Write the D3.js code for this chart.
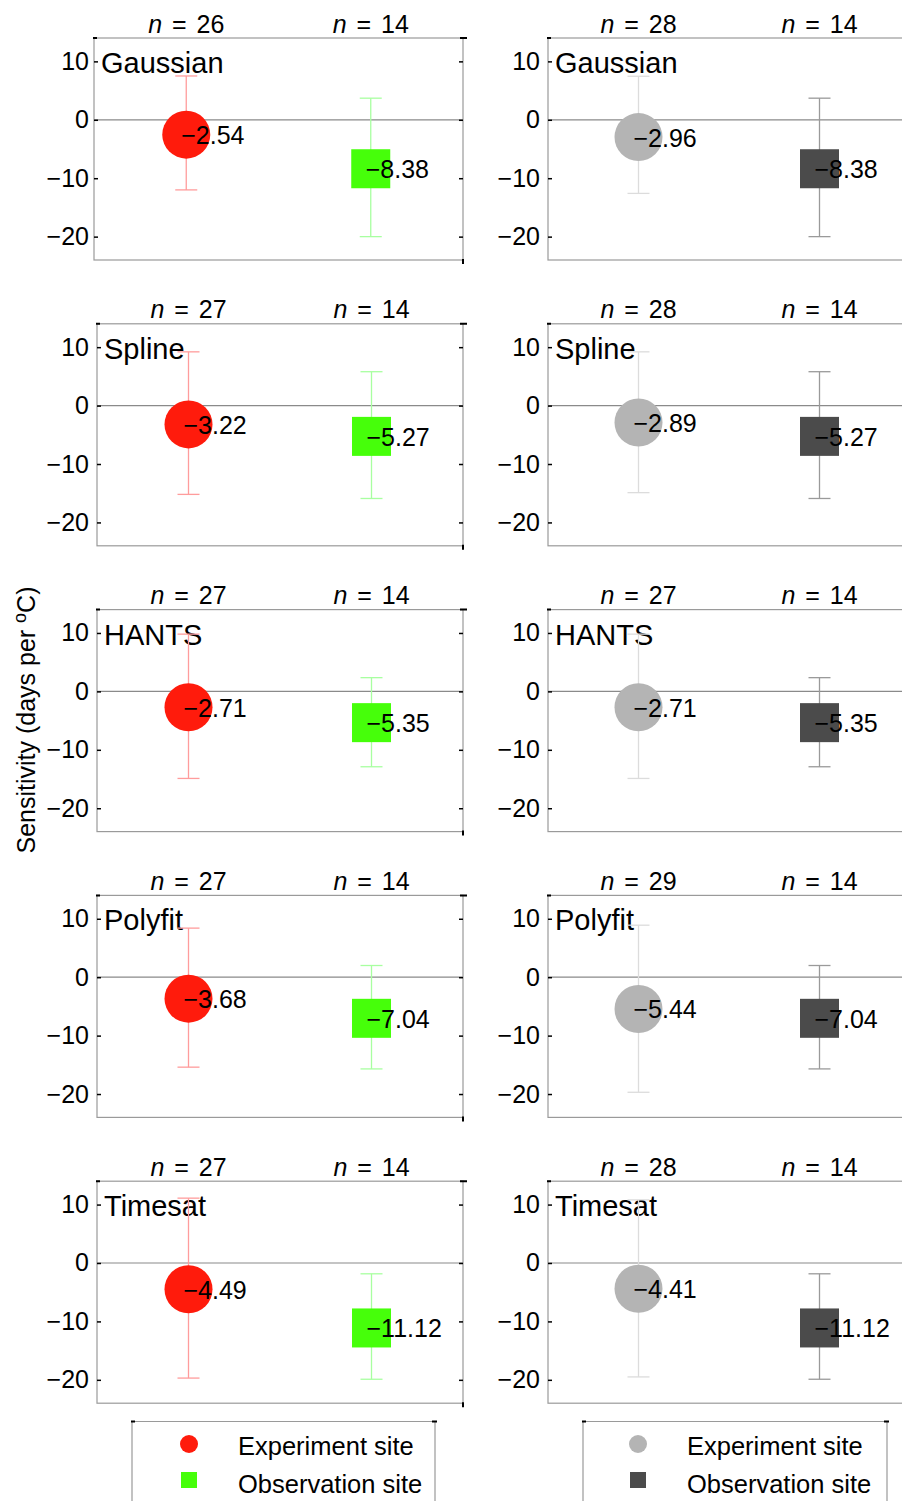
<!DOCTYPE html>
<html>
<head>
<meta charset="utf-8">
<script src="https://cdn.jsdelivr.net/npm/d3@7"></script>
<style>
  body { margin: 0; background: #fff; }
  svg { display: block; font-family: "Liberation Sans", Arial, sans-serif; }
</style>
</head>
<body>
<svg id="chart" width="902" height="1501"></svg>
<script>
// methods (rows) and the two sites (x categories)
const methods = ["Gaussian", "Spline", "HANTS", "Polyfit", "Timesat"];
const sites = ["Experiment site", "Observation site"];
const yTicks = [-20, -10, 0, 10];

// sample sizes
const nExpLeft = [26, 27, 27, 27, 27];
const nExpRight = [28, 28, 27, 29, 28];
const nObs = [14, 14, 14, 14, 14];

// experiment site, left column
const expMeanLeft = [-2.54, -3.22, -2.71, -3.68, -4.49];
const expHiLeft = [7.5, 9.2, 9.8, 8.4, 11.1];
const expLoLeft = [-12.0, -15.2, -14.9, -15.4, -19.7];

// experiment site, right column
const expMeanRight = [-2.96, -2.89, -2.71, -5.44, -4.41];
const expHiRight = [7.45, 9.2, 9.8, 8.9, 10.8];
const expLoRight = [-12.6, -14.9, -14.9, -19.7, -19.5];

// observation site (same in both columns)
const obsMean = [-8.38, -5.27, -5.35, -7.04, -11.12];
const obsHi = [3.7, 5.8, 2.35, 2.0, -1.85];
const obsLo = [-20.0, -15.9, -12.9, -15.7, -19.9];

const svg = d3.select("#chart");
const fmt = d => d3.format(".2f")(d);

// two colour schemes: coloured (left) and grey (right)
const columns = [
  { x0: 97, w: 366, labelEdge: 89, nExp: nExpLeft, mean: expMeanLeft, hi: expHiLeft, lo: expLoLeft,
    expFill: "#ff1b0c", obsFill: "#46ff0a", expBar: "#ff9c9c", obsBar: "#a8ffa0" },
  { x0: 548, w: 362, labelEdge: 540, nExp: nExpRight, mean: expMeanRight, hi: expHiRight, lo: expLoRight,
    expFill: "#b4b4b4", obsFill: "#4b4b4b", expBar: "#dcdcdc", obsBar: "#9a9a9a" }
];

const rowTop = i => 38 + i * 285.8;
const panelH = 222;

methods.forEach((m, i) => {
  columns.forEach((col, c) => {
    // first row, left column is a touch wider in the original
    const x0 = (i === 0 && c === 0) ? 94 : col.x0;
    const w = (i === 0 && c === 0) ? 369 : col.w;
    const top = rowTop(i);

    const x = d3.scaleBand().domain(sites).range([0, w]);
    const y = d3.scaleLinear().domain([-24, 14]).range([panelH, 0]);
    const cx = s => x(s) + x.bandwidth() / 2;

    const g = svg.append("g").attr("transform", `translate(${x0},${top})`);

    // frame
    g.append("rect").attr("width", w).attr("height", panelH)
      .attr("fill", "none").attr("stroke", "#9a9a9a").attr("stroke-width", 1.2);

    // zero line
    g.append("line").attr("x1", 0).attr("x2", w)
      .attr("y1", y(0)).attr("y2", y(0))
      .attr("stroke", "#8a8a8a").attr("stroke-width", 1.2);

    // left axis with inward ticks
    const ax = g.append("g").call(
      d3.axisLeft(y).tickValues(yTicks).tickSize(-4).tickPadding(x0 - col.labelEdge)
    );
    ax.select(".domain").remove();
    ax.selectAll(".tick line").attr("stroke", "#000").attr("stroke-width", 1.5);
    ax.selectAll(".tick text").attr("font-size", 25).attr("fill", "#000")
      .attr("font-family", "Liberation Sans, Arial, sans-serif");

    // right axis, ticks only
    const axr = g.append("g").attr("transform", `translate(${w},0)`).call(
      d3.axisRight(y).tickValues(yTicks).tickSize(-4).tickFormat("")
    );
    axr.select(".domain").remove();
    axr.selectAll(".tick line").attr("stroke", "#000").attr("stroke-width", 1.5);

    // corner marks
    g.append("path").attr("d", `M-1,0H3 M${w - 3},0H${w + 4} M${w},${panelH - 1}V${panelH + 4}`)
      .attr("stroke", "#000").attr("stroke-width", 2);

    // n labels
    const ns = [col.nExp[i], nObs[i]];
    sites.forEach((s, k) => {
      const t = g.append("text").attr("x", cx(s)).attr("y", -5.5)
        .attr("text-anchor", "middle").attr("font-size", 25).attr("fill", "#000")
        .attr("word-spacing", 3).attr("xml:space", "preserve");
      t.append("tspan").attr("font-style", "italic").text("n");
      t.append("tspan").text(" = " + ns[k]);
    });

    // method label
    g.append("text").attr("x", 7).attr("y", 35).attr("font-size", 29)
      .attr("fill", "#000").text(m);

    const rows = [
      { s: sites[0], mean: col.mean[i], hi: col.hi[i], lo: col.lo[i], fill: col.expFill, bar: col.expBar, shape: "circle" },
      { s: sites[1], mean: obsMean[i], hi: obsHi[i], lo: obsLo[i], fill: col.obsFill, bar: col.obsBar, shape: "square" }
    ];

    rows.forEach(d => {
      const px = cx(d.s);
      const bar = g.append("g").attr("stroke", d.bar).attr("stroke-width", 1.3);
      bar.append("line").attr("x1", px).attr("x2", px).attr("y1", y(d.hi)).attr("y2", y(d.lo));
      bar.append("line").attr("x1", px - 11).attr("x2", px + 11).attr("y1", y(d.hi)).attr("y2", y(d.hi));
      bar.append("line").attr("x1", px - 11).attr("x2", px + 11).attr("y1", y(d.lo)).attr("y2", y(d.lo));

      if (d.shape === "circle") {
        g.append("circle").attr("cx", px).attr("cy", y(d.mean)).attr("r", 24).attr("fill", d.fill);
      } else {
        g.append("rect").attr("x", px - 19.5).attr("y", y(d.mean) - 19.5)
          .attr("width", 39).attr("height", 39).attr("fill", d.fill);
      }

      g.append("text").attr("x", px - 5).attr("y", y(d.mean) + 9.5)
        .attr("font-size", 25).attr("fill", "#000")
        .text(d.mean < 0 ? "\u2212" + fmt(-d.mean) : fmt(d.mean));
    });
  });
});

// y axis title
const title = svg.append("text")
  .attr("transform", "translate(35,720) rotate(-90)")
  .attr("text-anchor", "middle").attr("font-size", 25).attr("fill", "#000");
title.append("tspan").text("Sensitivity (days per ");
title.append("tspan").attr("dy", -9).attr("font-size", 18).text("o");
title.append("tspan").attr("dy", 9).text("C)");

// legends
const legends = [
  { x0: 132, w: 303, mx: 189, fills: [columns[0].expFill, columns[0].obsFill] },
  { x0: 583, w: 304, mx: 638, fills: [columns[1].expFill, columns[1].obsFill] }
];
legends.forEach(L => {
  const g = svg.append("g");
  g.append("path").attr("d", `M${L.x0},1501V1421.5H${L.x0 + L.w}V1501`)
    .attr("fill", "none").attr("stroke", "#9a9a9a").attr("stroke-width", 1.2);
  g.append("path").attr("d", `M${L.x0 - 1},1421.5H${L.x0 + 3} M${L.x0 + L.w - 3},1421.5H${L.x0 + L.w + 2}`)
    .attr("stroke", "#000").attr("stroke-width", 2);
  g.append("circle").attr("cx", L.mx).attr("cy", 1444).attr("r", 9).attr("fill", L.fills[0]);
  g.append("rect").attr("x", L.mx - 8).attr("y", 1472).attr("width", 16).attr("height", 16).attr("fill", L.fills[1]);
  sites.forEach((s, k) => {
    g.append("text").attr("x", L.mx + 49).attr("y", 1455 + k * 37.5)
      .attr("font-size", 25.5).attr("fill", "#000").text(s);
  });
});
</script>
</body>
</html>
